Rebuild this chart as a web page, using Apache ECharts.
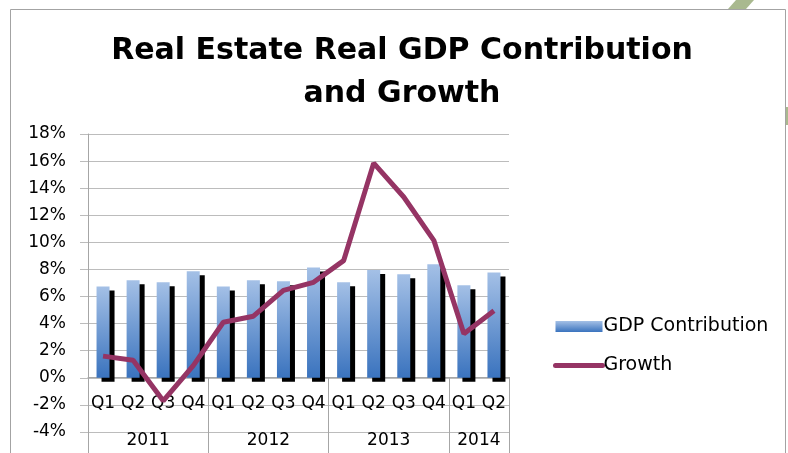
<!DOCTYPE html>
<html>
<head>
<meta charset="utf-8">
<script src="https://cdn.jsdelivr.net/npm/echarts@6/dist/echarts.min.js"></script>
<style>
  body { margin: 0; background: #fff; }
  #chart { width: 788px; height: 453px; }
</style>
</head>
<body>
<div id="chart"></div>
<script>
const quarters = ["Q1", "Q2", "Q3", "Q4", "Q1", "Q2", "Q3", "Q4", "Q1", "Q2", "Q3", "Q4", "Q1", "Q2"];
const years = ["2011", "2012", "2013", "2014"];
const yearStarts = [0, 4, 8, 12, 14];
const yearCentres = [2, 6, 10, 13];
const gdpContribution = [6.75, 7.2, 7.05, 7.86, 6.75, 7.2, 7.12, 8.15, 7.05, 7.96, 7.64, 8.38, 6.83, 7.78];
const growth = [1.6, 1.3, -1.7, 0.9, 4.1, 4.55, 6.45, 7.05, 8.65, 15.85, 13.35, 10.15, 3.25, 4.95];

const font = "DejaVu Sans";
const gridGray = "#bcbcbc";
const axisGray = "#a6a6a6";
const lineColor = "#953464";

let myChart = echarts.init(document.getElementById("chart"));

let option = {
  animation: false,
  graphic: [
    {
      type: "rect",
      shape: { x: 10.5, y: 9.5, width: 775, height: 460 },
      style: { fill: "none", stroke: "#a3a3a3", lineWidth: 1 },
      z: -10
    },
    {
      type: "polygon",
      shape: { points: [[736, 0], [754, 0], [746, 9], [728, 9]] },
      style: { fill: "#a9b98f" },
      z: -10
    },
    {
      type: "rect",
      shape: { x: 786, y: 107, width: 2, height: 18 },
      style: { fill: "#a9b98f" },
      z: -10
    }
  ],
  title: {
    text: "Real Estate Real GDP Contribution\nand Growth",
    left: 397,
    top: 25,
    textAlign: "center",
    textStyle: {
      fontFamily: font,
      fontWeight: "bold",
      fontSize: 30,
      lineHeight: 43,
      color: "#000"
    }
  },
  legend: {
    orient: "vertical",
    left: 548,
    top: 312,
    itemWidth: 47,
    itemHeight: 11,
    itemGap: 20,
    textStyle: { fontFamily: font, fontSize: 19, color: "#000", padding: [0, 0, 0, -4] },
    data: [
      {
        name: "GDP Contribution",
        icon: "rect",
        itemStyle: { shadowColor: "rgba(0,0,0,0)", shadowOffsetX: 0, shadowOffsetY: 0 }
      },
      {
        name: "Growth",
        itemStyle: { color: "rgba(0,0,0,0)", borderWidth: 0 },
        lineStyle: { color: lineColor, width: 5, cap: "round" }
      }
    ]
  },
  grid: { left: 88, right: 279, top: 134, bottom: 21, outerBoundsMode: "none" },
  xAxis: [
    {
      type: "category",
      data: quarters,
      boundaryGap: true,
      position: "bottom",
      offset: -55,
      axisLine: { onZero: false, lineStyle: { color: axisGray } },
      axisTick: { interval: 0, length: 38, lineStyle: { color: "#d0d0d0" } },
      axisLabel: { interval: 0, margin: 18, fontFamily: font, fontSize: 17, color: "#000" }
    },
    {
      type: "value",
      min: 0,
      max: quarters.length,
      position: "bottom",
      offset: -55,
      splitLine: { show: false },
      axisLine: { show: false, onZero: false },
      axisTick: { show: true, customValues: yearStarts, length: 76, lineStyle: { color: axisGray } },
      axisLabel: {
        customValues: yearCentres,
        margin: 55,
        fontFamily: font,
        fontSize: 17,
        color: "#000",
        formatter: v => years[yearCentres.indexOf(v)]
      }
    }
  ],
  yAxis: {
    type: "value",
    min: -4,
    max: 18,
    interval: 2,
    axisLine: { show: true, lineStyle: { color: axisGray } },
    axisTick: { show: true, length: 8, lineStyle: { color: gridGray } },
    splitLine: { lineStyle: { color: gridGray } },
    axisLabel: { margin: 22, fontFamily: font, fontSize: 17, color: "#000", formatter: "{value}%" }
  },
  series: [
    {
      name: "GDP Contribution",
      type: "bar",
      barWidth: 13,
      data: gdpContribution,
      itemStyle: {
        color: new echarts.graphic.LinearGradient(0, 0, 0, 1, [
          { offset: 0, color: "#a4c0e6" },
          { offset: 1, color: "#3a73be" }
        ]),
        shadowColor: "#000",
        shadowBlur: 0,
        shadowOffsetX: 5,
        shadowOffsetY: 4
      }
    },
    {
      name: "Growth",
      type: "line",
      data: growth,
      symbol: "none",
      lineStyle: { color: lineColor, width: 5 },
      itemStyle: { color: lineColor },
      z: 5
    }
  ]
};
myChart.setOption(option);
</script>
</body>
</html>
